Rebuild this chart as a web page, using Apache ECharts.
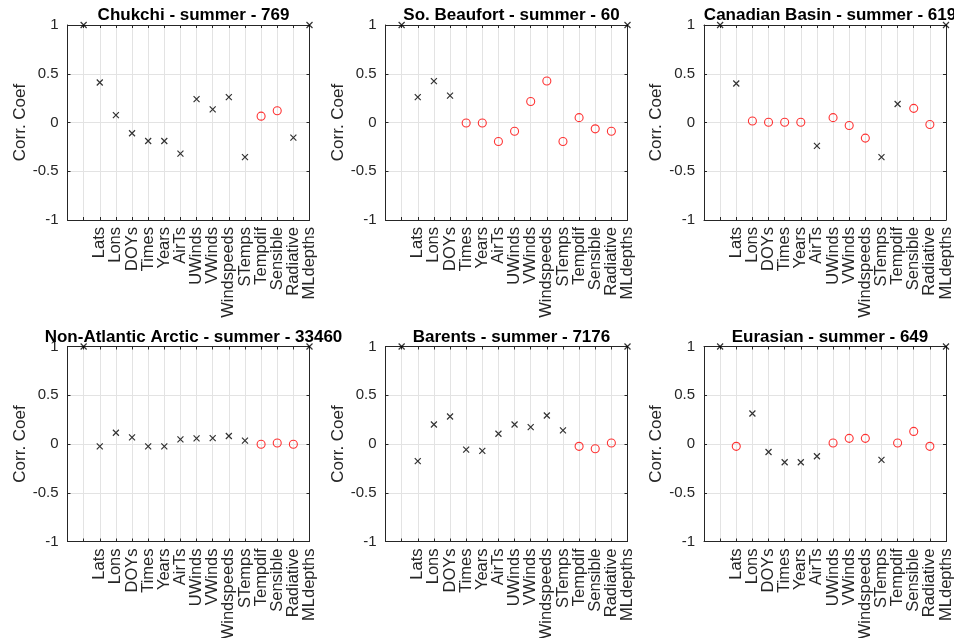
<!DOCTYPE html>
<html>
<head>
<meta charset="utf-8">
<title>Correlation coefficients - summer</title>
<script src="https://cdn.jsdelivr.net/npm/echarts@6/dist/echarts.min.js"></script>
<style>
  html, body { margin: 0; padding: 0; background: #fff; }
  #chart { width: 954px; height: 638px; }
</style>
</head>
<body>
<div id="chart"></div>
<script>
// Tick labels along the x axis (position 0 is the left edge, position 1 is the unnamed self term)
const tickLabels = ['', '', 'Lats', 'Lons', 'DOYs', 'Times', 'Years', 'AirTs', 'UWinds',
  'VWinds', 'Windspeeds', 'STemps', 'Tempdif', 'Sensible', 'Radiative', 'MLdepths'];
const yTicks = [-1, -0.5, 0, 0.5, 1];

// Correlation coefficients at positions 1..15, and whether each one is significant
// (1 = significant, drawn as a black cross; 0 = not significant, drawn as a red circle)
const chukchiCorr   = [1, 0.41, 0.075, -0.11, -0.19, -0.19, -0.32, 0.24, 0.135, 0.26, -0.355, 0.065, 0.12, -0.155, 1];
const chukchiSig    = [1, 1, 1, 1, 1, 1, 1, 1, 1, 1, 1, 0, 0, 1, 1];

const beaufortCorr  = [1, 0.26, 0.425, 0.275, -0.005, -0.005, -0.195, -0.09, 0.215, 0.425, -0.195, 0.05, -0.065, -0.09, 1];
const beaufortSig   = [1, 1, 1, 1, 0, 0, 0, 0, 0, 0, 0, 0, 0, 0, 1];

const canadianCorr  = [1, 0.40, 0.015, 0.003, 0.003, 0.003, -0.24, 0.05, -0.03, -0.16, -0.355, 0.19, 0.145, -0.02, 1];
const canadianSig   = [1, 1, 0, 0, 0, 0, 1, 0, 0, 0, 1, 1, 0, 0, 1];

const nonAtlCorr    = [1, -0.025, 0.115, 0.068, -0.025, -0.025, 0.048, 0.058, 0.06, 0.082, 0.034, -0.003, 0.01, -0.003, 1];
const nonAtlSig     = [1, 1, 1, 1, 1, 1, 1, 1, 1, 1, 1, 0, 0, 0, 1];

const barentsCorr   = [1, -0.175, 0.2, 0.282, -0.058, -0.07, 0.105, 0.2, 0.173, 0.292, 0.139, -0.024, -0.048, 0.01, 1];
const barentsSig    = [1, 1, 1, 1, 1, 1, 1, 1, 1, 1, 1, 0, 0, 0, 1];

const eurasianCorr  = [1, -0.024, 0.313, -0.082, -0.187, -0.187, -0.126, 0.01, 0.058, 0.058, -0.163, 0.01, 0.129, -0.024, 1];
const eurasianSig   = [1, 0, 1, 1, 1, 1, 1, 0, 0, 0, 1, 0, 0, 0, 1];

const panelTitles = [
  'Chukchi - summer - 769',
  'So. Beaufort - summer - 60',
  'Canadian Basin - summer - 619',
  'Non-Atlantic Arctic - summer - 33460',
  'Barents - summer - 7176',
  'Eurasian - summer - 649'
];
const panelCorr = [chukchiCorr, beaufortCorr, canadianCorr, nonAtlCorr, barentsCorr, eurasianCorr];
const panelSig  = [chukchiSig, beaufortSig, canadianSig, nonAtlSig, barentsSig, eurasianSig];

// Layout of the 2 x 3 panel grid
const FONT = '"Liberation Sans", Arial, Helvetica, sans-serif';
const AXIS_COLOR = '#262626';
const GRID_COLOR = '#e3e3e3';
const colLeft = [67.5, 385.5, 704];
const rowTop = [25, 346.5];
const plotW = 242;
const plotH = 195;

const crossPath = 'path://M0,0L10,10M10,0L0,10';

// category slots 0..15 sit on the tick positions (no boundary gap)
const xSlots = tickLabels.map(function (_, k) { return String(k); });

const grids = [], xAxes = [], yAxes = [], series = [], titles = [];

panelTitles.forEach(function (name, i) {
  const left = colLeft[i % 3];
  const top = rowTop[Math.floor(i / 3)];
  grids.push({
    left: left, top: top, width: plotW, height: plotH,
    containLabel: false, outerBoundsMode: 'none'
  });

  // bottom x axis: labels, ticks and vertical grid lines
  xAxes.push({
    type: 'category', gridIndex: i, position: 'bottom',
    data: xSlots, boundaryGap: false,
    axisLine: { show: true, onZero: false, lineStyle: { color: AXIS_COLOR, width: 1 } },
    axisTick: { show: true, inside: true, length: 3, interval: 0, lineStyle: { color: AXIS_COLOR } },
    splitLine: { show: true, interval: 0, lineStyle: { color: GRID_COLOR, width: 1 } },
    axisLabel: {
      interval: 0, rotate: 90, margin: 7, fontSize: 16.5, fontFamily: FONT, color: AXIS_COLOR,
      hideOverlap: false,
      formatter: function (v) { return tickLabels[Number(v)] || ''; }
    }
  });
  // top x axis: box edge with ticks only
  xAxes.push({
    type: 'category', gridIndex: i, position: 'top',
    data: xSlots, boundaryGap: false,
    axisLine: { show: true, onZero: false, lineStyle: { color: AXIS_COLOR, width: 1 } },
    axisTick: { show: true, inside: true, length: 3, interval: 0, lineStyle: { color: AXIS_COLOR } },
    splitLine: { show: false },
    axisLabel: { show: false }
  });
  // left y axis: labels, name, horizontal grid lines
  yAxes.push({
    type: 'value', gridIndex: i, position: 'left',
    min: yTicks[0], max: yTicks[yTicks.length - 1], interval: 0.5,
    name: 'Corr. Coef', nameLocation: 'middle', nameGap: 39,
    nameTextStyle: { fontSize: 17, fontFamily: FONT, color: AXIS_COLOR },
    axisLine: { show: true, onZero: false, lineStyle: { color: AXIS_COLOR, width: 1 } },
    axisTick: { show: true, inside: true, length: 3, lineStyle: { color: AXIS_COLOR } },
    splitLine: { show: true, lineStyle: { color: GRID_COLOR, width: 1 } },
    axisLabel: { margin: 9, fontSize: 15, fontFamily: FONT, color: AXIS_COLOR, hideOverlap: false }
  });
  // right y axis: box edge with ticks only
  yAxes.push({
    type: 'value', gridIndex: i, position: 'right',
    min: yTicks[0], max: yTicks[yTicks.length - 1], interval: 0.5,
    axisLine: { show: true, onZero: false, lineStyle: { color: AXIS_COLOR, width: 1 } },
    axisTick: { show: true, inside: true, length: 3, lineStyle: { color: AXIS_COLOR } },
    splitLine: { show: false },
    axisLabel: { show: false }
  });

  const sigPts = [], nonSigPts = [];
  panelCorr[i].forEach(function (v, k) {
    (panelSig[i][k] ? sigPts : nonSigPts).push([k + 1, v]);
  });

  series.push({
    type: 'scatter', xAxisIndex: 2 * i, yAxisIndex: 2 * i, data: sigPts,
    symbol: crossPath, symbolSize: 6, clip: false, silent: true,
    itemStyle: { color: 'rgba(0,0,0,0)', borderColor: '#000', borderWidth: 1.2 },
    z: 5
  });
  series.push({
    type: 'scatter', xAxisIndex: 2 * i, yAxisIndex: 2 * i, data: nonSigPts,
    symbol: 'circle', symbolSize: 8, clip: false, silent: true,
    itemStyle: { color: 'rgba(0,0,0,0)', borderColor: '#ff0000', borderWidth: 1.1 },
    z: 5
  });

  titles.push({
    text: name, left: left + plotW / 2, top: top - 23, textAlign: 'center',
    textStyle: { fontSize: 17, fontWeight: 'bold', fontFamily: FONT, color: '#000' }
  });
});

const chart = echarts.init(document.getElementById('chart'), null, { renderer: 'canvas' });
chart.setOption({
  animation: false,
  backgroundColor: '#fff',
  title: titles,
  grid: grids,
  xAxis: xAxes,
  yAxis: yAxes,
  series: series
});
</script>
</body>
</html>
